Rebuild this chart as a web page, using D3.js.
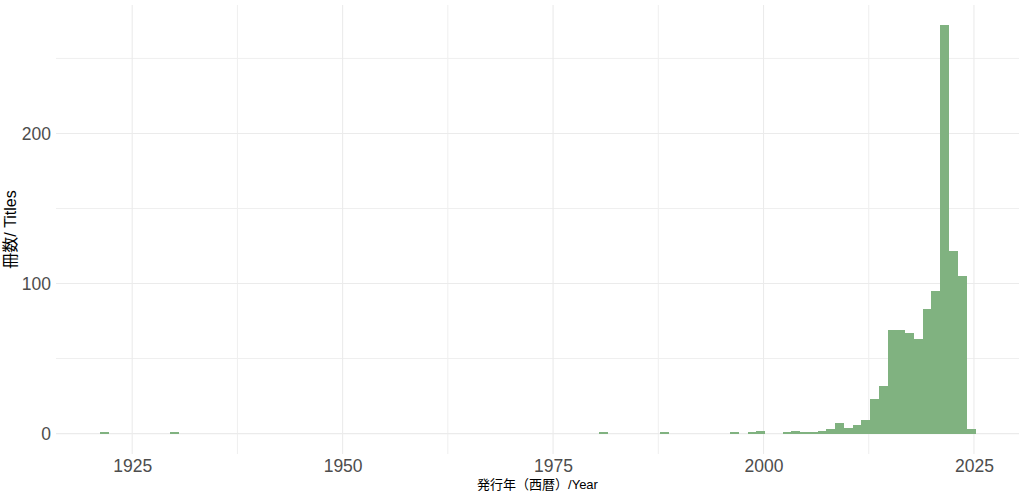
<!DOCTYPE html>
<html>
<head>
<meta charset="utf-8">
<script src="https://cdn.jsdelivr.net/npm/d3@7"></script>
<style>
  html, body { margin: 0; padding: 0; background: #ffffff; }
  svg { display: block; }
</style>
</head>
<body>
<div id="chart"></div>
<script>
// ---- data (histogram, 100 bins) ----
const binWidth = 1.04;
const binCenters = [1921.67, 1929.99, 1980.95, 1988.23, 1996.55, 1998.63, 1999.67,
  2002.79, 2003.83, 2004.87, 2005.91, 2006.95, 2007.99, 2009.03, 2010.07, 2011.11,
  2012.15, 2013.19, 2014.23, 2015.27, 2016.31, 2017.35, 2018.39, 2019.43, 2020.47,
  2021.51, 2022.55, 2023.59, 2024.63];
const counts = [1, 1, 1, 1, 1, 1, 2,
  1, 2, 1, 1, 2, 3, 7, 4, 6,
  9, 23, 32, 69, 69, 67, 63, 83, 95,
  272, 122, 105, 3];
const xTicks = [1925, 1950, 1975, 2000, 2025];
const xMinor = [1937.5, 1962.5, 1987.5, 2012.5];
const yTicks = [0, 100, 200];
const yMinor = [50, 150, 250];
const xTitle = "発行年（西暦）/Year";
const yTitle = "冊数/ Titles";

// ---- layout ----
const W = 1024, H = 498;
const panel = { left: 56, right: 1019, top: 5, bottom: 454 };

const bins = binCenters.map((c, i) => ({ x0: c - binWidth / 2, x1: c + binWidth / 2, n: counts[i] }));
const xLo = d3.min(bins, d => d.x0), xHi = d3.max(bins, d => d.x1);
const xPad = (xHi - xLo) * 0.05;
const yMax = d3.max(counts), yPad = yMax * 0.05;

const x = d3.scaleLinear().domain([xLo - xPad, xHi + xPad]).range([panel.left, panel.right]);
const y = d3.scaleLinear().domain([-yPad, yMax + yPad]).range([panel.bottom, panel.top]);

const svg = d3.select("#chart").append("svg").attr("width", W).attr("height", H);
svg.append("rect").attr("width", W).attr("height", H).attr("fill", "#ffffff");

const grid = svg.append("g");
grid.selectAll(".vmin").data(xMinor).join("line")
  .attr("x1", d => x(d)).attr("x2", d => x(d))
  .attr("y1", panel.top).attr("y2", panel.bottom)
  .attr("stroke", "#EFEFEF").attr("stroke-width", 1);
grid.selectAll(".hmin").data(yMinor).join("line")
  .attr("y1", d => y(d)).attr("y2", d => y(d))
  .attr("x1", panel.left).attr("x2", panel.right)
  .attr("stroke", "#EFEFEF").attr("stroke-width", 1);
grid.selectAll(".vmaj").data(xTicks).join("line")
  .attr("x1", d => x(d)).attr("x2", d => x(d))
  .attr("y1", panel.top).attr("y2", panel.bottom)
  .attr("stroke", "#EBEBEB").attr("stroke-width", 1.1);
grid.selectAll(".hmaj").data(yTicks).join("line")
  .attr("y1", d => y(d)).attr("y2", d => y(d))
  .attr("x1", panel.left).attr("x2", panel.right)
  .attr("stroke", "#EBEBEB").attr("stroke-width", 1.1);

// bars
svg.append("g").attr("shape-rendering", "crispEdges")
  .selectAll("rect").data(bins).join("rect")
  .attr("x", d => x(d.x0))
  .attr("width", d => x(d.x1) - x(d.x0) + 0.3)
  .attr("y", d => y(d.n))
  .attr("height", d => y(0) - y(d.n))
  .attr("fill", "#80B280");

// axes (text only, like theme_minimal)
const font = "'Liberation Sans', Arial, sans-serif";
const xAxis = svg.append("g").attr("transform", `translate(0,${panel.bottom})`)
  .call(d3.axisBottom(x).tickValues(xTicks).tickFormat(d3.format("d")).tickSize(0).tickPadding(6));
xAxis.select(".domain").remove();
xAxis.selectAll("text").attr("font-family", font).attr("font-size", 17.5).attr("fill", "#4D4D4D");

const yAxis = svg.append("g").attr("transform", `translate(${panel.left},0)`)
  .call(d3.axisLeft(y).tickValues(yTicks).tickFormat(d3.format("d")).tickSize(0).tickPadding(5));
yAxis.select(".domain").remove();
yAxis.selectAll("text").attr("font-family", font).attr("font-size", 17.5).attr("fill", "#4D4D4D");

svg.append("text")
  .attr("x", (panel.left + panel.right) / 2).attr("y", 489)
  .attr("text-anchor", "middle")
  .attr("font-family", "'Liberation Sans', 'Noto Sans CJK JP', sans-serif")
  .attr("font-size", 13).attr("fill", "#000000")
  .text(xTitle);

svg.append("text")
  .attr("transform", `translate(16,${(panel.top + panel.bottom) / 2}) rotate(-90)`)
  .attr("text-anchor", "middle")
  .attr("font-family", "'Liberation Sans', 'Noto Sans CJK JP', sans-serif")
  .attr("font-size", 16).attr("fill", "#000000")
  .text(yTitle);
</script>
</body>
</html>
